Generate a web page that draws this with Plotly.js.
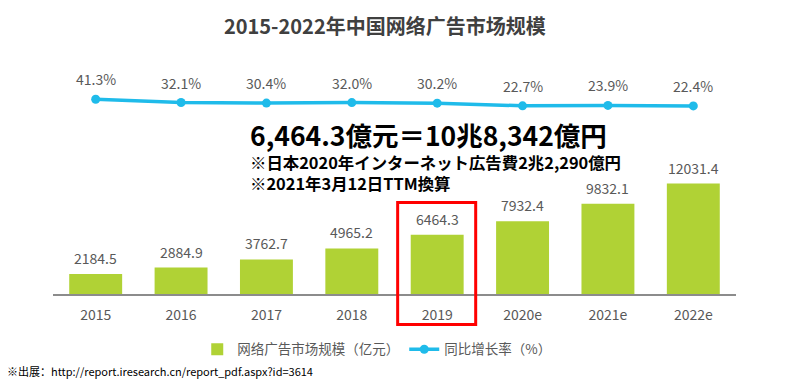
<!DOCTYPE html>
<html>
<head>
<meta charset="utf-8">
<script src="https://cdn.plot.ly/plotly-3.0.1.min.js"></script>
<style>html,body{margin:0;padding:0;background:#fff;}#chart{width:800px;height:382px;}</style>
</head>
<body>
<div id="chart"></div>
<script>
const years = ["2015", "2016", "2017", "2018", "2019", "2020e", "2021e", "2022e"];
const marketSize = [2184.5, 2884.9, 3762.7, 4965.2, 6464.3, 7932.4, 9832.1, 12031.4];
const growthRate = [41.3, 32.1, 30.4, 32.0, 30.2, 22.7, 23.9, 22.4];
const barLabels = ["2184.5", "2884.9", "3762.7", "4965.2", "6464.3", "7932.4", "9832.1", "12031.4"];
const rateLabels = ["41.3%", "32.1%", "30.4%", "32.0%", "30.2%", "22.7%", "23.9%", "22.4%"];
const titleText = "2015-2022年中国网络广告市场规模";
const seriesNames = ["网络广告市场规模（亿元）", "同比增长率（%）"];
const noteLines = ["6,464.3億元＝10兆8,342億円", "※日本2020年インターネット広告費2兆2,290億円", "※2021年3月12日TTM換算"];
const sourceText = "※出展：http://report.iresearch.cn/report_pdf.aspx?id=3614";
const highlightYear = "2019";

const FONT = "'Noto Sans CJK SC', 'Noto Sans', sans-serif";
const JP = "'Noto Sans CJK JP', sans-serif";
const GRAY = "#595959";

const traces = [
  {
    type: "bar", x: years, y: marketSize, name: seriesNames[0],
    marker: {color: "#b0d235"}, hoverinfo: "none"
  },
  {
    type: "scatter", mode: "lines+markers", x: years, y: growthRate, yaxis: "y2",
    name: seriesNames[1],
    line: {color: "#1fbbea", width: 3.5},
    marker: {color: "#1fbbea", size: 9}, hoverinfo: "none"
  }
];

const annotations = [];
years.forEach((yr, i) => {
  annotations.push({x: i, y: marketSize[i], xref: "x", yref: "y", text: barLabels[i],
    showarrow: false, yanchor: "middle", yshift: 16,
    font: {family: FONT, size: 14, color: GRAY}});
  annotations.push({x: i, y: growthRate[i], xref: "x", yref: "y2", text: rateLabels[i],
    showarrow: false, yanchor: "middle", yshift: 20,
    font: {family: FONT, size: 14, color: GRAY}});
});
annotations.push({xref: "paper", yref: "paper", x: 0.2855, y: 0.6816, xanchor: "left", yanchor: "middle",
  text: "<b>" + noteLines[0] + "</b>", showarrow: false, font: {family: JP, size: 26.5, color: "#000"}});
annotations.push({xref: "paper", yref: "paper", x: 0.2855, y: 0.5171, xanchor: "left", yanchor: "middle", align: "left",
  text: "<b>" + noteLines[1] + "</b><br><b>" + noteLines[2] + "</b>", showarrow: false,
  font: {family: JP, size: 16.4, color: "#000"}});
annotations.push({xref: "paper", yref: "paper", x: -0.0703, y: -0.331, xanchor: "left", yanchor: "middle",
  text: sourceText, showarrow: false, font: {family: FONT, size: 11, color: "#000"}});

const hi = years.indexOf(highlightYear);

const layout = {
  width: 800, height: 382,
  margin: {l: 53, r: 64, t: 60, b: 88},
  paper_bgcolor: "#fff", plot_bgcolor: "#fff",
  title: {text: "<b>" + titleText + "</b>", x: 0.481, xanchor: "center", y: 0.929, yanchor: "middle",
    font: {family: FONT, size: 20, color: "#404040"}},
  bargap: 0.38,
  showlegend: true,
  legend: {orientation: "h", x: 0.474, xanchor: "center", y: -0.237, yanchor: "middle",
    font: {family: FONT, size: 13.5, color: GRAY}, traceorder: "normal"},
  xaxis: {type: "category", range: [-0.5, years.length - 0.5], autorange: false, showgrid: false, zeroline: false,
    showline: true, linecolor: "#8c8c8c", linewidth: 1.5,
    ticks: "", ticklabelstandoff: 8, tickfont: {family: FONT, size: 14, color: GRAY}, fixedrange: true},
  yaxis: {range: [0, 25490], visible: false, showgrid: false, zeroline: false},
  yaxis2: {range: [-515, 153.6], overlaying: "y", visible: false, showgrid: false, zeroline: false},
  annotations: annotations,
  shapes: [{type: "rect", xref: "x", yref: "paper", x0: hi - 0.463, x1: hi + 0.451, y0: -0.130, y1: 0.391,
    line: {color: "#ff0000", width: 3}, fillcolor: "rgba(0,0,0,0)"}]
};

Plotly.newPlot("chart", traces, layout, {staticPlot: true, displayModeBar: false});
</script>
</body>
</html>
